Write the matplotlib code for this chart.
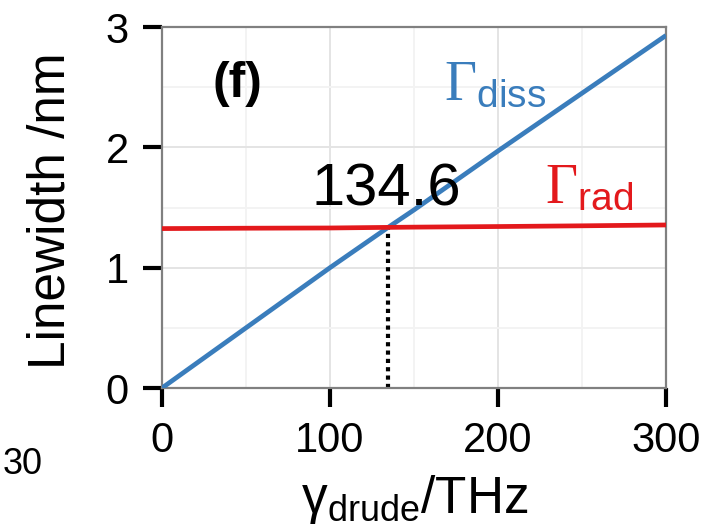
import matplotlib
matplotlib.use("Agg")
import matplotlib.pyplot as plt
from matplotlib.ticker import MultipleLocator

# values
gamma_drude = [0, 50, 100, 134.6, 150, 200, 250, 300]
gamma_diss = [0.0, 0.50, 1.00, 1.335, 1.48, 1.97, 2.45, 2.93]
gamma_rad = [1.325, 1.328, 1.330, 1.335, 1.337, 1.342, 1.348, 1.355]
crossing_x = 134.6
crossing_y = 1.335

plt.rcParams['font.family'] = ['Liberation Sans', 'DejaVu Sans']
plt.rcParams['mathtext.fontset'] = 'custom'
plt.rcParams['mathtext.rm'] = 'Liberation Serif'
plt.rcParams['mathtext.sf'] = 'Liberation Sans'
plt.rcParams['mathtext.it'] = 'Liberation Serif:italic'

blue = '#3a7dbc'
red = '#e3191c'

fig = plt.figure(figsize=(7.27, 5.3), dpi=100)
ax = fig.add_axes([0.2228, 0.2679, 0.6933, 0.6811])

ax.plot(gamma_drude, gamma_diss, color=blue, lw=3.4, solid_capstyle='butt', zorder=3)
ax.plot(gamma_drude, gamma_rad, color=red, lw=3.4, solid_capstyle='butt', zorder=3)
ax.plot([crossing_x, crossing_x], [0, crossing_y], color='black', lw=3,
        linestyle=(0, (1, 1)), zorder=2)

ax.set_xlim(0, 300)
ax.set_ylim(0, 3)
ax.xaxis.set_major_locator(MultipleLocator(100))
ax.xaxis.set_minor_locator(MultipleLocator(50))
ax.yaxis.set_major_locator(MultipleLocator(1))
ax.yaxis.set_minor_locator(MultipleLocator(0.5))

ax.grid(which='major', color='#e4e4e4', lw=1.4, zorder=0)
ax.grid(which='minor', color='#f3f3f3', lw=1.4, zorder=0)
ax.set_axisbelow(True)

for s in ax.spines.values():
    s.set_color('#808080')
    s.set_linewidth(1.6)

ax.tick_params(which='major', direction='out', length=14, width=3,
               color='black', labelsize=30, pad=10)
ax.tick_params(which='minor', length=0)

ax.set_ylabel('Linewidth /nm', fontsize=37)
ax.yaxis.set_label_coords(-0.172, 0.49)

fig.text(0.57, 0.032, r'$\mathsf{\gamma_{drude}}$/THz', fontsize=37,
         ha='center', va='baseline')

ax.text(30, 2.42, '(f)', fontsize=36, fontweight='bold', va='baseline')
ax.text(89, 1.52, '134.6', fontsize=43, va='baseline')
ax.text(168, 2.39, r'$\Gamma_{\mathsf{diss}}$', fontsize=40, color=blue, va='baseline')
ax.text(228, 1.54, r'$\Gamma_{\mathsf{rad}}$', fontsize=40, color=red, va='baseline')

# fragment of the neighbouring panel's tick label
fig.text(0.003, 0.105, '30', fontsize=26, ha='left', va='baseline')

fig.savefig('out.png', dpi=100)
